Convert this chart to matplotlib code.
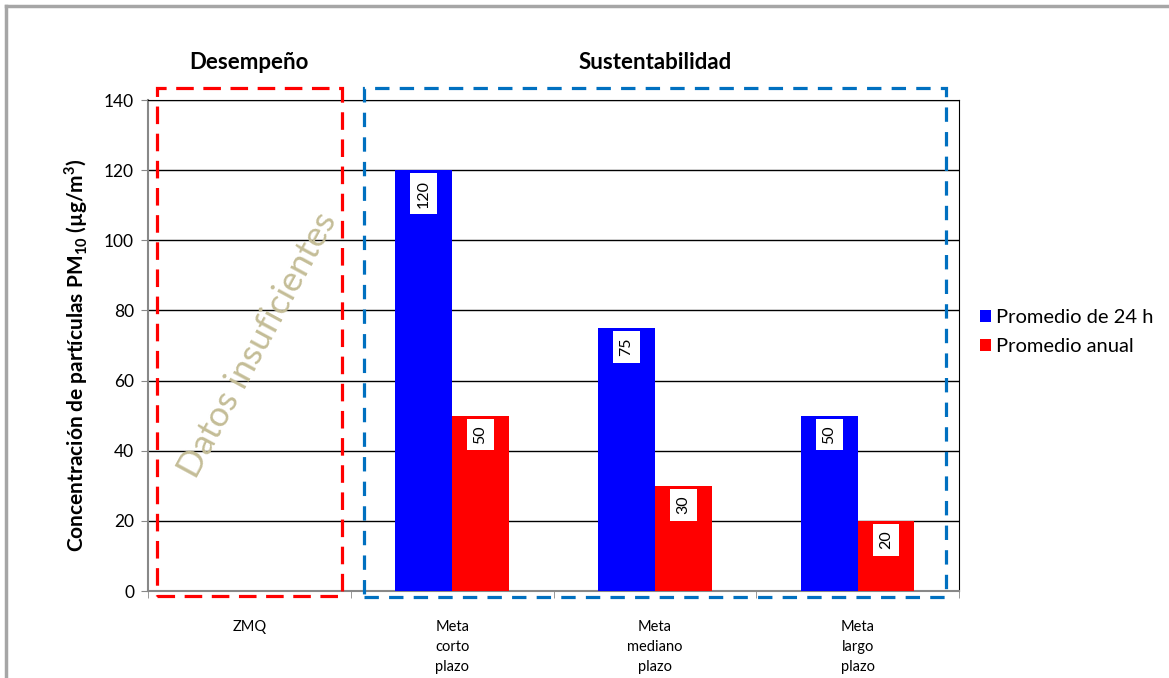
import numpy as np
import matplotlib
matplotlib.use("Agg")
import matplotlib.pyplot as plt
from matplotlib.patches import Rectangle
from matplotlib.lines import Line2D

plt.rcParams['font.family'] = ['Lato', 'DejaVu Sans']
plt.rcParams['mathtext.fontset'] = 'custom'
plt.rcParams['mathtext.rm'] = 'Lato'
plt.rcParams['mathtext.bf'] = 'Lato:bold'

categories = ['ZMQ', 'Meta\ncorto\nplazo', 'Meta\nmediano\nplazo', 'Meta\nlargo\nplazo']
prom_24h = [np.nan, 120, 75, 50]
prom_anual = [np.nan, 50, 30, 20]
series_names = ['Promedio de 24 h', 'Promedio anual']
yticks = [0, 20, 40, 60, 80, 100, 120, 140]

fig = plt.figure(figsize=(11.69, 6.78), dpi=100)
ax = fig.add_axes([0.1266, 0.1283, 0.6938, 0.7242])

x = np.arange(len(categories)) + 0.5
w = 0.28
b1 = ax.bar(x - w / 2, prom_24h, w, color='#0000ff', label=series_names[0], zorder=3)
b2 = ax.bar(x + w / 2, prom_anual, w, color='#ff0000', label=series_names[1], zorder=3)

# value labels, rotated, in white boxes just below the bar top
for bars, vals in ((b1, prom_24h), (b2, prom_anual)):
    for rect, v in zip(bars, vals):
        if np.isnan(v):
            continue
        ax.annotate(f'{v:g}', (rect.get_x() + rect.get_width() / 2, v),
                    xytext=(0, -7), textcoords='offset points',
                    rotation=90, ha='center', va='top', fontsize=11.5,
                    bbox=dict(boxstyle='square,pad=0.4', fc='white', ec='none'),
                    zorder=5)

ax.set_xlim(0, 4)
ax.set_ylim(0, 140)
ax.set_yticks(yticks)
ax.tick_params(axis='y', labelsize=12.5, length=5, color='#888888', pad=5)
ax.set_xticks(x)
ax.set_xticklabels(categories, fontsize=10.5, linespacing=1.55)
ax.tick_params(axis='x', length=0, pad=21)
ax.set_xticks([0, 1, 2, 3, 4], minor=True)
ax.tick_params(axis='x', which='minor', length=5, color='#888888')
ax.grid(axis='y', color='black', lw=1, zorder=0)

for s in ('left', 'bottom'):
    ax.spines[s].set_color('#888888')
    ax.spines[s].set_linewidth(1.5)
ax.spines['right'].set_color('black')
ax.spines['top'].set_color('black')

ax.set_ylabel(r'Concentración de partículas PM$_{\mathbf{10}}$ (µg/m$^{\mathbf{3}}$)',
              fontsize=15, fontweight='bold')
ax.yaxis.set_label_coords(-0.072, 0.48)

# dashed group frames
ax.add_patch(Rectangle((0.044, -1.5), 0.913, 145.0, fill=False, ec='#ff0000',
                       lw=2.3, ls=(0, (5.5, 3)), clip_on=False, zorder=6))
ax.add_patch(Rectangle((1.065, -1.8), 2.871, 145.3, fill=False, ec='#0070c0',
                       lw=2.3, ls=(0, (4.5, 3.2)), clip_on=False, zorder=6))

ax.text(0.5, 150.6, 'Desempeño', ha='center', va='center', fontsize=16,
        fontweight='bold')
ax.text(2.5, 150.6, 'Sustentabilidad', ha='center', va='center', fontsize=16,
        fontweight='bold')

ax.text(0.54, 70, 'Datos insuficientes', rotation=61.5, ha='center', va='center',
        fontsize=25.5, color='#c4bd97', zorder=4)

ax.legend(loc='center left', bbox_to_anchor=(1.004, 0.527), frameon=False,
          fontsize=14.5, handlelength=0.55, handleheight=0.55,
          handletextpad=0.2, labelspacing=0.6)

# outer chart border
fig.add_artist(Line2D([6 / 1169, 6 / 1169], [0, 1 - 6 / 678], color='#a6a6a6',
                      lw=2.5, transform=fig.transFigure))
fig.add_artist(Line2D([6 / 1169, 1], [1 - 6 / 678, 1 - 6 / 678], color='#a6a6a6',
                      lw=2.5, transform=fig.transFigure))

fig.savefig('out.png', dpi=100)
